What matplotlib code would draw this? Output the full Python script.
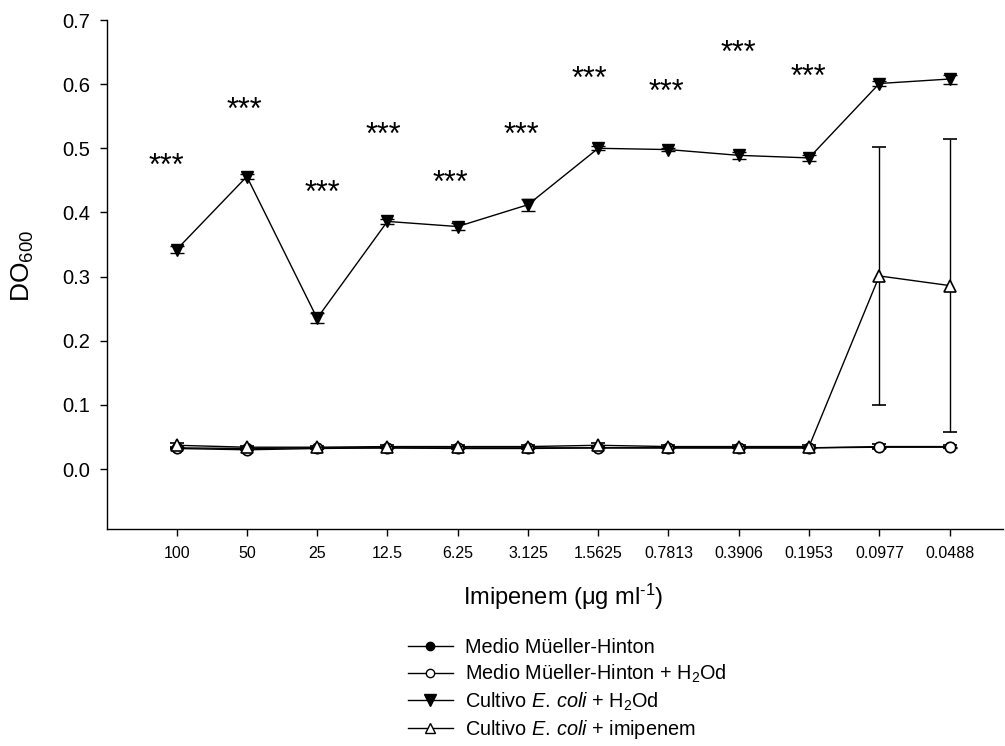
import numpy as np
import matplotlib
matplotlib.use('Agg')
import matplotlib.pyplot as plt
from matplotlib.lines import Line2D

plt.rcParams['font.family'] = ['Liberation Sans', 'DejaVu Sans']
plt.rcParams['mathtext.fontset'] = 'custom'
plt.rcParams['mathtext.rm'] = 'Liberation Sans'
plt.rcParams['mathtext.it'] = 'Liberation Sans:italic'

# concentracion de imipenem (ug/ml)
concLabels = ['100', '50', '25', '12.5', '6.25', '3.125', '1.5625', '0.7813',
              '0.3906', '0.1953', '0.0977', '0.0488']

# DO600 por tratamiento
medioMH = [0.033, 0.032, 0.033, 0.033, 0.033, 0.033, 0.033, 0.033, 0.033, 0.033, 0.034, 0.034]
medioMH_err = [0.001] * 12
medioH2O = [0.032, 0.030, 0.032, 0.033, 0.032, 0.032, 0.033, 0.033, 0.033, 0.033, 0.035, 0.035]
medioH2O_err = [0.001, 0.001, 0.001, 0.001, 0.001, 0.001, 0.001, 0.001, 0.001, 0.001, 0.004, 0.002]
ecoliH2O = [0.342, 0.456, 0.235, 0.386, 0.378, 0.412, 0.500, 0.498, 0.489, 0.485, 0.601, 0.608]
ecoliH2O_err = [0.005, 0.004, 0.008, 0.004, 0.006, 0.009, 0.003, 0.003, 0.005, 0.005, 0.004, 0.007]
ecoliImi = [0.037, 0.034, 0.034, 0.035, 0.035, 0.035, 0.037, 0.035, 0.035, 0.035, 0.301, 0.286]
ecoliImi_err = [0.003, 0.002, 0.002, 0.002, 0.002, 0.002, 0.003, 0.002, 0.002, 0.002, 0.2015, 0.229]

# significancia (***) sobre cada concentracion
starIdx = [0, 1, 2, 3, 4, 5, 6, 7, 8, 9]
starShift = [-0.14, -0.03, 0.07, -0.06, -0.11, -0.09, -0.13, -0.03, -0.01, -0.01]
starY = [0.483, 0.571, 0.441, 0.532, 0.457, 0.532, 0.619, 0.599, 0.659, 0.622]

x = np.arange(len(concLabels))

fig = plt.figure(figsize=(10.05, 7.46), dpi=100)
ax = fig.add_axes([107/1005, 1-529/746, 896/1005, 509/746])

common = dict(color='black', lw=1.0, elinewidth=1.0, capsize=5, capthick=1.0)
ax.errorbar(x, medioMH, yerr=medioMH_err, marker='o', ms=7, mfc='black', mec='black', **common)
ax.errorbar(x, medioH2O, yerr=medioH2O_err, marker='o', ms=7.5, mfc='white', mec='black', mew=1.2, **common)
ax.errorbar(x, ecoliH2O, yerr=ecoliH2O_err, marker='v', ms=8.5, mfc='black', mec='black', **common)
ax.errorbar(x, ecoliImi, yerr=ecoliImi_err, marker='^', ms=8.5, mfc='white', mec='black', mew=1.2, **common)

for i, s, yv in zip(starIdx, starShift, starY):
    ax.annotate('***', (x[i] + s, yv), xytext=(0, -11.5), textcoords='offset points',
                ha='center', va='baseline', fontsize=22)

ax.set_xlim(-0.99, 11.76)
ax.set_ylim(-0.0935, 0.7)
ax.set_xticks(x)
ax.set_xticklabels(concLabels, fontsize=11.5)
ax.set_yticks(np.arange(0, 0.71, 0.1))
ax.set_yticklabels(['%.1f' % v for v in np.arange(0, 0.71, 0.1)], fontsize=14.5)
ax.tick_params(axis='both', direction='out', length=5, width=1.0, color='black')
ax.tick_params(axis='x', pad=7)
ax.tick_params(axis='y', pad=7)
ax.spines['top'].set_visible(False)
ax.spines['right'].set_visible(False)
ax.spines['left'].set_linewidth(1.0)
ax.spines['bottom'].set_linewidth(1.0)

fig.text(23/1005, 1-266/746, r'DO$_{600}$', rotation=90, ha='center', va='center', fontsize=19)
fig.text(563/1005, 1-597/746, r'Imipenem (μg ml$^{\text{-1}}$)', ha='center', va='center', fontsize=17)

handles = [
    Line2D([], [], color='black', lw=1.0, marker='o', ms=6, mfc='black'),
    Line2D([], [], color='black', lw=1.0, marker='o', ms=6, mfc='white'),
    Line2D([], [], color='black', lw=1.0, marker='v', ms=8, mfc='black'),
    Line2D([], [], color='black', lw=1.0, marker='^', ms=6.5, mfc='white'),
]
labels = ['Medio Müeller-Hinton',
          r'Medio Müeller-Hinton + H$_2$Od',
          r'Cultivo $\mathit{E.\,coli}$ + H$_2$Od',
          r'Cultivo $\mathit{E.\,coli}$ + imipenem']
fig.legend(handles, labels, loc='upper left', bbox_to_anchor=(408/1005, 1-638/746),
           frameon=False, fontsize=14.3, handlelength=2.26, handletextpad=0.6,
           labelspacing=0.28, borderpad=0, borderaxespad=0)

fig.savefig('out.png', dpi=100)
